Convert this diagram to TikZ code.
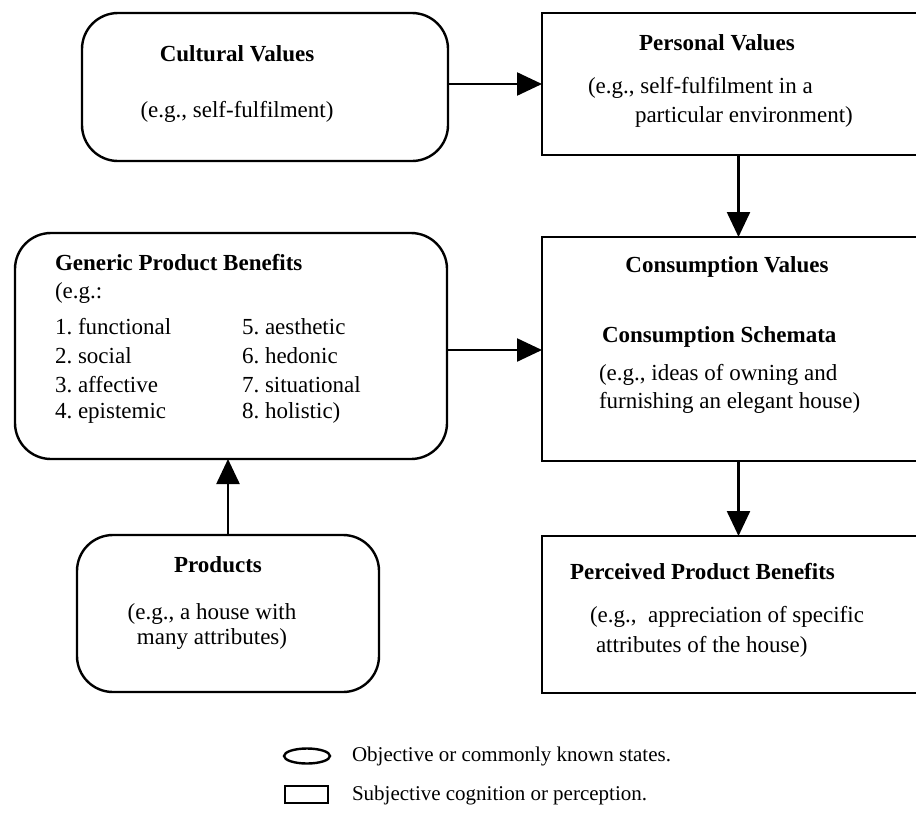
\documentclass[tikz,border=0pt]{standalone}
\usepackage{fontspec}
\setmainfont{Liberation Serif}
\usetikzlibrary{arrows.meta,shapes.geometric}
\frenchspacing
\begin{document}
\begin{tikzpicture}[x=1pt,y=-1pt,
  every node/.style={inner sep=0pt,outer sep=0pt,font=\fontsize{23}{28}\selectfont},
  objbox/.style={draw,line width=2.4pt,rounded corners=36pt},
  subjbox/.style={draw,line width=2.4pt},
  ttl/.style={font=\fontsize{23}{28}\selectfont\bfseries},
  txt/.style={font=\fontsize{23}{28}\selectfont},
  lgd/.style={font=\fontsize{21}{25}\selectfont},
  arr/.style={line width=2.4pt,-{Triangle[length=25pt,width=23pt]}}]
\useasboundingbox (0,0) rectangle (916,812);
\clip (0,0) rectangle (916,812);
\fill[white] (0,0) rectangle (916,812);

% boxes
\node[objbox,minimum width=366pt,minimum height=148pt] (cult) at (265,87) {};
\node[subjbox,minimum width=393pt,minimum height=142pt] (pers) at (738.5,84) {};
\node[objbox,minimum width=432pt,minimum height=226pt] (gen) at (231,346) {};
\node[subjbox,minimum width=393pt,minimum height=224pt] (cons) at (738.5,349) {};
\node[objbox,minimum width=302pt,minimum height=157pt] (prod) at (228,613.5) {};
\node[subjbox,minimum width=393pt,minimum height=157pt] (perc) at (738.5,614.5) {};

% texts: cultural
\node[ttl] (cultT) at (237,54) {Cultural Values};
\node[txt] (cultE) at (237,112) {(e.g., self-fulfilment)};
% personal
\node[ttl] (persT) at (717,43) {Personal Values};
\node[txt,anchor=west] (persE1) at (588,88) {(e.g., self-fulfilment in a};
\node[txt,anchor=west] (persE2) at (635,117) {particular environment)};
% generic
\node[ttl,anchor=west] (genT) at (55,263) {Generic Product Benefits};
\node[txt,anchor=west] (genE) at (55,293) {(e.g.:};
\node[txt,anchor=west] (g1) at (55,327) {1. functional};
\node[txt,anchor=west] (g2) at (55,356) {2. social};
\node[txt,anchor=west] (g3) at (55,385) {3. affective};
\node[txt,anchor=west] (g4) at (55,413) {4. epistemic};
\node[txt,anchor=west] (g5) at (242,327) {5. aesthetic};
\node[txt,anchor=west] (g6) at (242,356) {6. hedonic};
\node[txt,anchor=west] (g7) at (242,385) {7. situational};
\node[txt,anchor=west] (g8) at (242,413) {8. holistic)};
% consumption
\node[ttl] (consT) at (727,267) {Consumption Values};
\node[ttl,anchor=west] (consS) at (602,337) {Consumption Schemata};
\node[txt,anchor=west] (consE1) at (599,375) {(e.g., ideas of owning and};
\node[txt,anchor=west] (consE2) at (599,403) {furnishing an elegant house)};
% products
\node[ttl] (prodT) at (218,565) {Products};
\node[txt] (prodE1) at (212,614) {(e.g., a house with};
\node[txt] (prodE2) at (212,639) {many attributes)};
% perceived
\node[ttl,anchor=west] (percT) at (570,572) {Perceived Product Benefits};
\node[txt,anchor=west] (percE1) at (590,617) {(e.g.,\ \ appreciation of specific};
\node[txt,anchor=west] (percE2) at (596,647) {attributes of the house)};

% arrows
\draw[arr] (cult.east |- 0,84) -- (pers.west |- 0,84);
\draw[arr] (gen.east |- 0,350) -- (cons.west |- 0,350);
\draw[arr] (pers.south) -- (cons.north);
\draw[arr] (cons.south) -- (perc.north);
\draw[arr] (prod.north) -- (prod.north |- gen.south);

% legend
\node[draw,line width=2.4pt,ellipse,minimum width=46pt,minimum height=15pt] (lgE) at (307,756) {};
\node[draw,line width=2.4pt,minimum width=43pt,minimum height=17pt] (lgR) at (306.5,794.5) {};
\node[lgd,anchor=west] (lgET) at (352,756) {Objective or commonly known states.};
\node[lgd,anchor=west] (lgRT) at (352,795) {Subjective cognition or perception.};
\end{tikzpicture}
\end{document}
